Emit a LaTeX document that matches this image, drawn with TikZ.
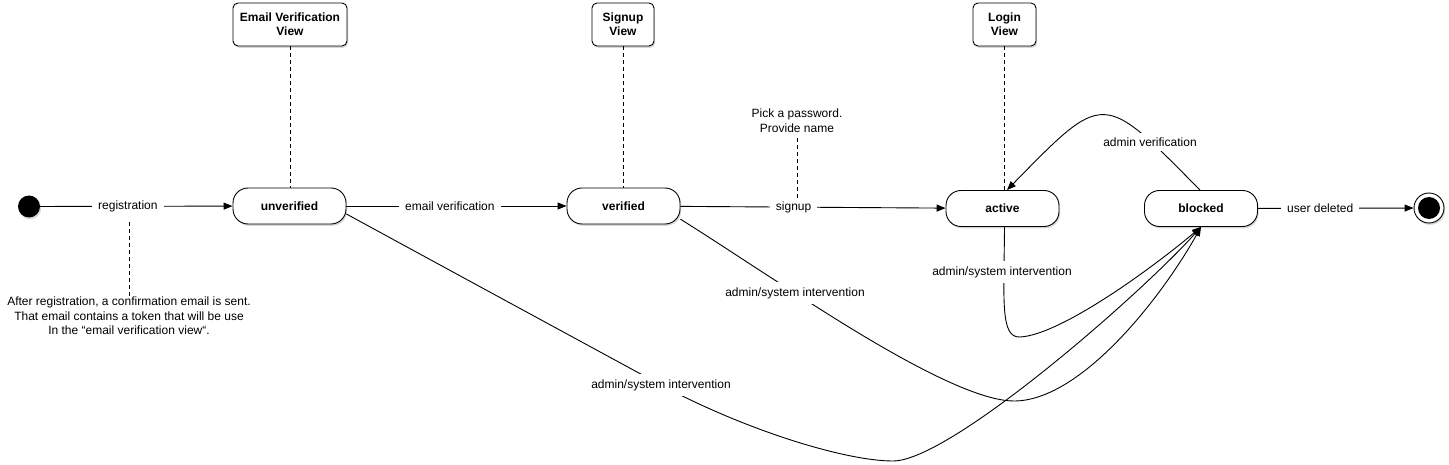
\documentclass[tikz,border=0pt]{standalone}
\usepackage{fontspec}
\setmainfont{Liberation Sans}
\usetikzlibrary{arrows.meta,shadows,calc}
\begin{document}
\begin{tikzpicture}[x=1pt,y=-1pt,
  shadowed/.style={drop shadow={fill=black!45,opacity=0.35,shadow xshift=1.2pt,shadow yshift=-1.8pt}},
  statebox/.style={draw,line width=0.9pt,rounded corners=15pt,minimum width=113pt,minimum height=36pt,
     inner sep=0pt,fill=white,font=\bfseries\fontsize{12}{14}\selectfont,shadowed},
  viewbox/.style={draw,line width=0.9pt,rounded corners=5pt,minimum height=43pt,inner sep=0pt,
     align=center,fill=white,font=\bfseries\fontsize{12}{14}\selectfont,shadowed},
  lbl/.style={fill=white,inner xsep=6pt,inner ysep=5pt,font=\fontsize{12}{14.5}\selectfont},
  notetext/.style={align=center,inner sep=1pt,font=\fontsize{12}{14.5}\selectfont},
  conn/.style={draw,line width=0.9pt,-{Triangle[length=9pt,width=7pt]}},
  dashline/.style={line width=0.9pt,dash pattern=on 4pt off 3pt}]
\useasboundingbox (0,0) rectangle (1449,465);

% states
\node[circle,fill=black,minimum size=22pt,inner sep=0pt,shadowed] (init) at (29,206.5) {};
\node[statebox] (unv) at (289.5,206) {unverified};
\node[statebox] (ver) at (623.5,206) {verified};
\node[statebox] (act) at (1002.5,208.5) {active};
\node[statebox] (blk) at (1201,208.5) {blocked};
\node[circle,draw,line width=0.9pt,fill=white,minimum size=30pt,inner sep=0pt,shadowed] (fin) at (1429,208) {};
\node[circle,fill=black,minimum size=22pt,inner sep=0pt] (finc) at (fin.center) {};

% views
\node[viewbox,minimum width=114pt] (vEmail) at (290,24.5) {Email Verification\\View};
\node[viewbox,minimum width=62pt] (vSign) at (623,24.5) {Signup\\View};
\node[viewbox,minimum width=63pt] (vLogin) at (1004.5,24.5) {Login\\View};

\draw[dashline] (vEmail.south) -- (vEmail.south |- unv.north);
\draw[dashline] (vSign.south) -- (vSign.south |- ver.north);
\draw[dashline] (vLogin.south) -- (vLogin.south |- act.north);

% straight transitions
\draw[conn] (init) -- node[lbl,pos=0.456] (lreg) {registration} (unv);
\draw[conn] (unv) -- node[lbl,pos=0.47] (lemail) {email verification} (ver);
\draw[conn] (ver) -- node[lbl,pos=0.427] (lsign) {signup} (act);
\draw[conn] (blk) -- node[lbl,pos=0.4] (ldel) {user deleted} (fin);

% notes
\node[notetext] (nreg) at (129,316) {After registration, a confirmation email is sent.\\That email contains a token that will be use\\In the “email verification view“.};
\draw[dashline] ($(nreg.north |- lreg.south)+(0,5)$) -- (nreg.north);
\node[notetext] (nsign) at (797,120.5) {Pick a password.\\Provide name};
\draw[dashline] ($(nsign.south)+(0,5)$) -- ($(nsign.south |- lsign.north)+(0,3)$);

% curved transitions
\coordinate (cA) at (1002,272);
\coordinate (cB) at (795,293);
\coordinate (cC) at (661,385);
\coordinate (cV) at (1150,142);

\draw[conn] (unv.-8) .. controls (451,271) and (556,328) .. (cC)
   .. controls (745,430) and (845,461) .. (893,461)
   .. controls (950,461) and (1140,295) .. (blk.south);
\draw[conn] (ver.-13) .. controls (720,244) and (757,269) .. (cB)
   .. controls (875,345) and (969,401) .. (1014,401)
   .. controls (1080,401) and (1160,300) .. (blk.south);
\draw[conn] ([xshift=2pt]act.south) .. controls (1004,300) and (1000,338) .. (1020,337)
   .. controls (1060,335) and (1150,270) .. (blk.south);
\draw[conn] ([xshift=-1pt]blk.north) .. controls (1102,91) and (1105,90) .. ([xshift=4.5pt]act.north);

\node[lbl] (lA) at (cA) {admin/system intervention};
\node[lbl] (lB) at (cB) {admin/system intervention};
\node[lbl] (lC) at (cC) {admin/system intervention};
\node[lbl] (lV) at (cV) {admin verification};
\end{tikzpicture}
\end{document}
